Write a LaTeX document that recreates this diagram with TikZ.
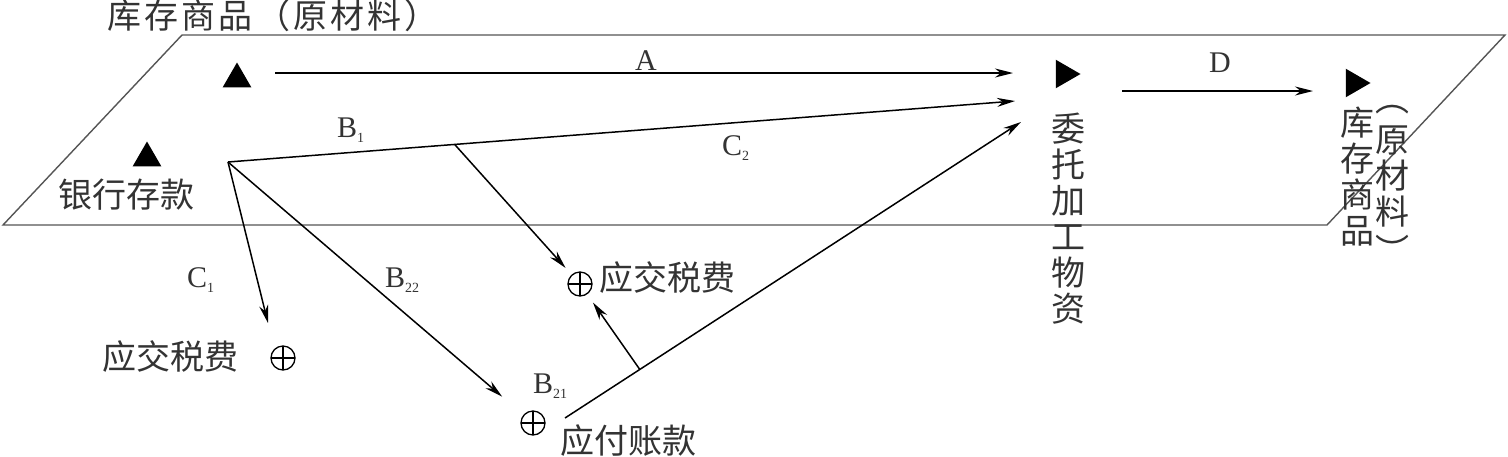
\documentclass[tikz,border=0pt]{standalone}
\usepackage{fontspec}
\setmainfont{Liberation Serif}
\newfontfamily\cjk{Noto Sans CJK SC}
\newfontfamily\cjkwide[LetterSpace=9]{Noto Sans CJK SC}
\usetikzlibrary{arrows.meta,shapes.geometric,calc}
\definecolor{txtgray}{HTML}{333333}
\definecolor{framegray}{HTML}{555555}
\newcommand{\sbs}[1]{{\fontsize{14}{14}\selectfont\raisebox{-5pt}{#1}}}
\begin{document}
\begin{tikzpicture}[x=1pt,y=-1pt,
  cjklabel/.style={font=\cjk\fontsize{34}{36}\selectfont, text=txtgray, inner sep=0pt},
  titlelabel/.style={font=\cjkwide\fontsize{34}{36}\selectfont, text=txtgray, inner sep=0pt},
  vlabel/.style={cjklabel, align=center},
  latin/.style={font=\fontsize{30}{30}\selectfont, text=txtgray, inner sep=0pt, anchor=base west},
  conn/.style={line width=1.5pt, draw=black, -{Stealth[length=18pt,width=9pt]}},
  frameline/.style={line width=1.4pt, draw=framegray},
  uptri/.style={regular polygon, regular polygon sides=3, fill=black, draw=none, inner sep=0pt, minimum size=33pt},
  righttri/.style={uptri, rotate=-90},
  oplusnode/.style={circle, draw=black, line width=1.3pt, minimum size=24pt, inner sep=0pt,
    path picture={\draw[line width=1.3pt] (path picture bounding box.north) -- (path picture bounding box.south)
      (path picture bounding box.west) -- (path picture bounding box.east);}}
]
\useasboundingbox (0,0) rectangle (1508,456);

% frame (parallelogram)
\coordinate (p1) at (3,225);
\coordinate (p2) at (182,35);
\coordinate (p3) at (1505,35);
\coordinate (p4) at (1327,225);
\draw[frameline] (p1) -- (p2) -- (p3) -- (p4) -- cycle;

% title
\node[titlelabel] (title) at (273,16) {库存商品（原材料）};

% triangles
\node[uptri] (stockT) at (237,79) {};
\node[uptri] (bankT) at (147,158) {};
\node[righttri] (procT) at (1064,74) {};
\node[righttri] (stock2T) at (1354,83) {};

% CJK labels
\node[cjklabel] (bank) at (126,195) {银行存款};
\node[cjklabel] (taxL) at (170,357) {应交税费};
\node[cjklabel] (taxM) at (667,278) {应交税费};
\node[cjklabel] (payL) at (628,441) {应付账款};
\node[vlabel] (proc) at (1068,219) {委\\托\\加\\工\\物\\资};
\node[vlabel] (stock2) at (1357,177) {库\\存\\商\\品};
\node[vlabel] (raw) at (1392,176) {原\\材\\料};
\node[cjklabel] (rawo) at (1392,110) {︵};
\node[cjklabel] (rawc) at (1392,249) {︶};

% circled plus
\node[oplusnode] (tax1) at (283,358) {};
\node[oplusnode] (tax2) at (580,284) {};
\node[oplusnode] (pay) at (533,423) {};

% connector points
\coordinate (hub) at (228,162);
\coordinate (sA) at (275,73);
\coordinate (tA) at (1013,73);
\coordinate (tB) at (1015,101);
\coordinate (sE) at (565,418);
\coordinate (tE) at (1021,122);
\coordinate (tC1) at (268,323);
\coordinate (sD) at (1122,91);
\coordinate (tD) at (1313,91);
\coordinate (bb) at ($(hub)!0.288!(tB)$);
\coordinate (ub) at ($(sE)!0.164!(tE)$);

% connectors
\draw[conn] (sA) -- (tA);
\draw[conn] (hub) -- (tB);
\draw[conn, shorten >=9pt] (bb) -- (tax2);
\draw[conn] (hub) -- (tC1);
\draw[conn, shorten >=28pt] (hub) -- (pay);
\draw[conn] (sE) -- (tE);
\draw[conn, shorten >=10pt] (ub) -- (tax2);
\draw[conn] (sD) -- (tD);

% latin labels
\node[latin, anchor=base] (lA) at (646,70) {A};
\node[latin, anchor=base] (lD) at (1220,72) {D};
\node[latin] (lB1) at (337,137) {B\sbs{1}};
\node[latin] (lC2) at (722,155) {C\sbs{2}};
\node[latin] (lC1) at (187,287) {C\sbs{1}};
\node[latin] (lB22) at (385,287) {B\sbs{22}};
\node[latin] (lB21) at (533,393) {B\sbs{21}};
\end{tikzpicture}
\end{document}
